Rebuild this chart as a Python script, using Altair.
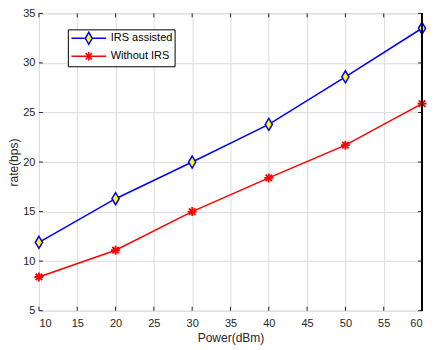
import altair as alt
import pandas as pd

power = [10, 20, 30, 40, 50, 60]
irs_assisted = [11.9, 16.3, 20.0, 23.8, 28.6, 33.5]
without_irs = [8.4, 11.1, 15.0, 18.4, 21.7, 25.9]
series_names = ["IRS assisted", "Without IRS"]
x_ticks = [10, 15, 20, 25, 30, 35, 40, 45, 50, 55, 60]
y_ticks = [5, 10, 15, 20, 25, 30, 35]

df = pd.DataFrame({
    "power": power + power,
    "rate": irs_assisted + without_irs,
    "series": [series_names[0]] * len(power) + [series_names[1]] * len(power),
})
xt = pd.DataFrame({"power": x_ticks})
yt = pd.DataFrame({"rate": y_ticks})

W, H = 384, 298
FONT = "Liberation Sans"
BLUE, RED, YELLOW = "#0000ff", "#ff0000", "#ffff00"

xs = alt.Scale(domain=[10, 60], nice=False, zero=False)
ys = alt.Scale(domain=[5, 35], nice=False, zero=False)
xaxis = alt.Axis(values=x_ticks, title="Power(dBm)", grid=True, domain=False, ticks=False,
                 labelPadding=7, titlePadding=4, gridColor="#dcdcdc", labelFontSize=11,
                 titleFontSize=12, titleFontWeight="normal", labelColor="#262626",
                 titleColor="#262626", labelFont=FONT, titleFont=FONT)
yaxis = alt.Axis(values=y_ticks, title="rate(bps)", grid=True, domain=False, ticks=False,
                 labelPadding=4, titlePadding=2, gridColor="#dcdcdc", labelFontSize=11,
                 titleFontSize=12, titleFontWeight="normal", labelColor="#262626",
                 titleColor="#262626", labelFont=FONT, titleFont=FONT)

X = alt.X("power:Q", scale=xs, axis=xaxis)
Y = alt.Y("rate:Q", scale=ys, axis=yaxis)

irs_df = df[df.series == series_names[0]]
wo_df = df[df.series == series_names[1]]

line_irs = alt.Chart(irs_df).mark_line(strokeWidth=1.5, color=BLUE).encode(x=X, y=Y)
line_wo = alt.Chart(wo_df).mark_line(strokeWidth=1.5, color=RED).encode(x=X, y=Y)

diamond = "M0,-1L0.6,0L0,1L-0.6,0Z"
star = "M-0.9,0L0.9,0M0,-0.9L0,0.9M-0.65,-0.65L0.65,0.65M-0.65,0.65L0.65,-0.65"

pts_irs = alt.Chart(irs_df).mark_point(
    shape=diamond, filled=True, fill=YELLOW, stroke=BLUE, strokeWidth=1.5, size=144, opacity=1
).encode(x=X, y=Y)
pts_wo = alt.Chart(wo_df).mark_point(
    shape=star, filled=False, stroke=RED, strokeWidth=1.8, size=100, opacity=1
).encode(x=X, y=Y)

leg = alt.Legend(title=None, orient="none", legendX=29, legendY=16, strokeColor="black",
                 fillColor="white", padding=2, symbolSize=144, symbolOffset=12, labelOffset=15,
                 labelFont=FONT, labelFontSize=11, labelColor="black", rowPadding=1,
                 symbolStrokeWidth=1.5, symbolOpacity=1, cornerRadius=0)
leg_irs = "M-2.9,0L-0.58,0M0.58,0L2.9,0M0,-1L0.58,0L0,1L-0.58,0Z"
leg_wo = "M-2.9,0L2.9,0M0,-0.75L0,0.75M-0.53,-0.53L0.53,0.53M-0.53,0.53L0.53,-0.53"

legend_layer = alt.Chart(df).mark_point(filled=True, opacity=0, strokeWidth=1.5).encode(
    x=X, y=Y,
    shape=alt.Shape("series:N", scale=alt.Scale(domain=series_names, range=[leg_irs, leg_wo]), legend=leg),
    stroke=alt.Stroke("series:N", scale=alt.Scale(domain=series_names, range=[BLUE, RED]), legend=leg),
    fill=alt.Fill("series:N", scale=alt.Scale(domain=series_names, range=[YELLOW, RED]), legend=leg),
)

tick_color = "#262626"
xt_bottom = alt.Chart(xt).mark_rule(color=tick_color, strokeWidth=1).encode(
    x=X, y=alt.value(H), y2=alt.value(H - 4))
xt_top = alt.Chart(xt).mark_rule(color=tick_color, strokeWidth=1).encode(
    x=X, y=alt.value(0), y2=alt.value(4))
yt_left = alt.Chart(yt).mark_rule(color=tick_color, strokeWidth=1).encode(
    y=Y, x=alt.value(0), x2=alt.value(4))
yt_right = alt.Chart(yt).mark_rule(color=tick_color, strokeWidth=1).encode(
    y=Y, x=alt.value(W - 4), x2=alt.value(W))
right_border = alt.Chart(xt).mark_rule(color="black", strokeWidth=1.5).encode(
    x=alt.value(W), y=alt.value(0), y2=alt.value(H))

chart = alt.layer(
    line_irs, line_wo, legend_layer, pts_irs, pts_wo,
    xt_bottom, xt_top, yt_left, yt_right, right_border
).properties(
    width=W, height=H,
    autosize=alt.AutoSizeParams(type="none"),
    padding={"left": 31, "top": 5, "right": 10, "bottom": 37},
).configure_view(stroke=None).configure(background="white")

chart.save("out.html", embed_options={"renderer": "svg", "actions": False})
